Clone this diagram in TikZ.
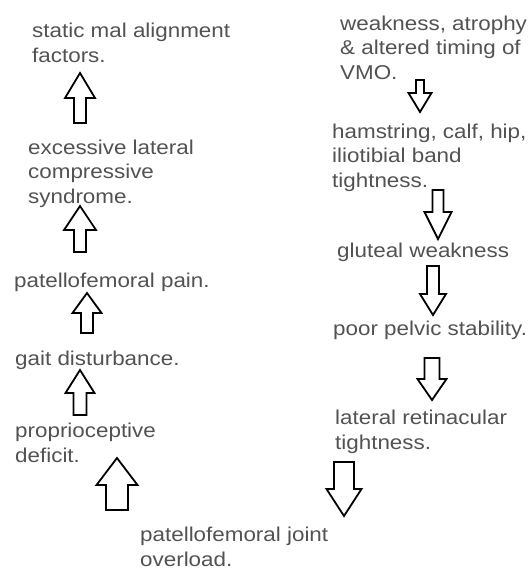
\documentclass[tikz,border=0pt]{standalone}
\usepackage{fontspec}
\setmainfont{Liberation Sans}[FakeStretch=1.12]
\usepackage{tikz}

\definecolor{txtgray}{RGB}{82,82,82}

\begin{document}
\begin{tikzpicture}[x=1pt, y=-1pt,
    txt/.style={anchor=base west, align=left, inner sep=0pt, text=txtgray,
      font=\fontsize{20}{24.5}\selectfont},
    blockarrow/.style={draw=black, fill=white, line width=1.8pt, line join=miter}
]
  \useasboundingbox (0,0) rectangle (529,570);

  % left column, read from the bottom up (y is the last line's baseline)
  \node[txt] (static)   at (32,62)   {static mal alignment\\factors.};
  \node[txt] (elcs)     at (28,203)  {excessive lateral\\compressive\\syndrome.};
  \node[txt] (pfpain)   at (14,287)  {patellofemoral pain.};
  \node[txt] (gait)     at (15,365)  {gait disturbance.};
  \node[txt] (propr)    at (15,462)  {proprioceptive\\deficit.};
  \node[txt] (overload) at (140,566) {patellofemoral joint\\overload.};

  % right column, read from the top down
  \node[txt] (vmo)      at (340,79)  {weakness, atrophy\\\& altered timing of\\VMO.};
  \node[txt] (tight)    at (332,187) {hamstring, calf, hip,\\iliotibial band\\tightness.};
  \node[txt] (glut)     at (337,257) {gluteal weakness};
  \node[txt] (pelvic)   at (333,335) {poor pelvic stability.};
  \node[txt] (retin)    at (335,449) {lateral retinacular\\tightness.};

  % block arrows: x / tail / head base / tip / half head / half shaft
  \foreach \x/\ya/\yb/\yc/\hw/\sw in {80/123/98/73/15/6, 80/252/230/206/16/6,
      87/333/313/293/14.5/6, 80/415/393/370/14.5/6.5, 117/510/485/458/20.5/11,
      420/80/93/112/11.5/4, 438/190/212/239/13.5/5.5, 433/266/294/315/13/6,
      432/358/379/400/14.5/7.5, 344/462/489/516/17.5/10}{
    \draw[blockarrow] (\x-\sw,\ya) -- (\x-\sw,\yb) -- (\x-\hw,\yb) -- (\x,\yc)
      -- (\x+\hw,\yb) -- (\x+\sw,\yb) -- (\x+\sw,\ya) -- cycle;
  }
\end{tikzpicture}
\end{document}
